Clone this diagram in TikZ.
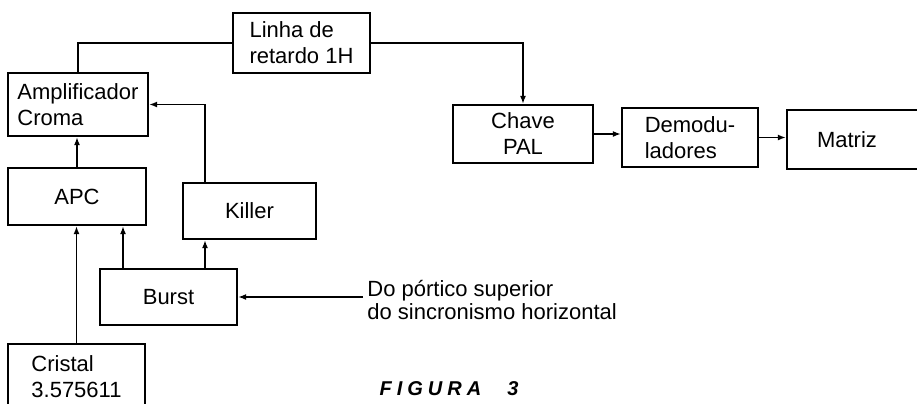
\documentclass[tikz,border=0pt]{standalone}
\usepackage{fontspec}
\setmainfont{Liberation Sans}
\usetikzlibrary{arrows.meta}

\begin{document}
\begin{tikzpicture}[
      x=0.5pt, y=-0.5pt,
      blk/.style={draw, line width=1.1pt, font=\fontsize{11}{13}\selectfont,
                  inner sep=0pt},
      wire/.style={line width=0.9pt},
      arr/.style={wire, -{Latex[length=4pt, width=3pt]}},
      note/.style={font=\fontsize{11}{11.5}\selectfont, align=left,
                   inner sep=2pt},
      fig/.style={font=\fontsize{10}{11}\selectfont\bfseries\itshape,
                  inner sep=0pt},
    ]
    \useasboundingbox (0,0) rectangle (917,403);
    \clip (0,0) rectangle (917,403);

    % Boxes
    \node[blk, minimum width=68.5pt, minimum height=30pt, align=left]
      (linha) at (301.5, 43) {Linha de\\retardo 1H};
    \node[blk, minimum width=70pt, minimum height=31.5pt, align=left]
      (amp) at (78, 104.5) {Amplificador\\Croma};
    \node[blk, minimum width=69pt, minimum height=28.5pt]
      (apc) at (77, 196.5) {APC};
    \node[blk, minimum width=66.5pt, minimum height=28pt]
      (killer) at (249.5, 211) {Killer};
    \node[blk, minimum width=68.5pt, minimum height=28pt]
      (burst) at (168.5, 297) {Burst};
    \node[blk, minimum width=68.5pt, minimum height=33pt, align=left]
      (cristal) at (76.5, 377) {Cristal\\3.575611};
    \node[blk, minimum width=70pt, minimum height=29pt, align=center]
      (chave) at (523, 134) {Chave\\PAL};
    \node[blk, minimum width=68pt, minimum height=29.5pt, align=left]
      (demod) at (690, 137.5) {Demodu-\\ladores};
    \node[blk, minimum height=29.5pt, inner xsep=15pt, text width=44pt,
          align=left] (matriz) at (861, 139.5) {Matriz};

    % Texts
    \node[note, anchor=west] (sinc) at (363, 300)
      {Do pórtico superior\\do sincronismo horizontal};
    \node[fig] (figura) at (449, 389)
      {F\kern2.5pt I\kern2.5pt G\kern2.5pt U\kern2.5pt R\kern2.5pt A\kern13pt 3};

    % Columns of the vertical wires
    \coordinate (kcol) at (205, 0);
    \coordinate (acol) at (123, 0);

    % Connections
    \draw[wire] (amp.north) |- (linha.west);
    \draw[arr] (linha.east) -| (chave.north);
    \draw[arr] (chave.east) -- (chave.east -| demod.west);
    \draw[arr] (demod.east) -- (demod.east -| matriz.west);
    \draw[arr] (apc.north) -- (apc.north |- amp.south);
    \draw[arr] (kcol |- killer.north) |- (amp.east);
    \draw[arr] (kcol |- burst.north) -- (kcol |- killer.south);
    \draw[arr] (acol |- burst.north) -- (acol |- apc.south);
    \draw[arr] (cristal.north) -- (cristal.north |- apc.south);
    \draw[arr] (sinc.west |- burst.east) -- (burst.east);
  \end{tikzpicture}
\end{document}
